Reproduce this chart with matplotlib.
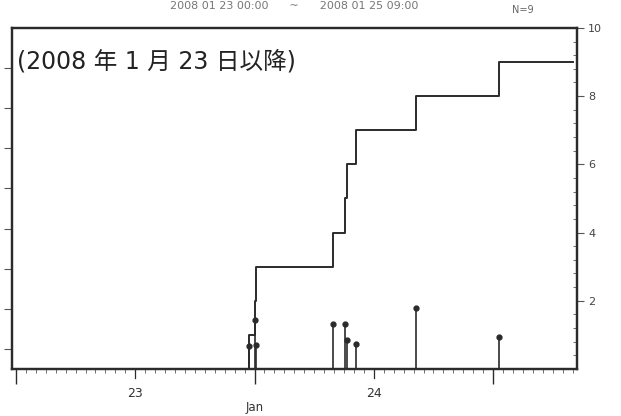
import matplotlib
matplotlib.use('Agg')
import matplotlib.pyplot as plt
import matplotlib.dates as mdates
import numpy as np
import pandas as pd

# event times and magnitudes
event_times = ['2008-01-23 23:26', '2008-01-24 00:03', '2008-01-24 00:09',
               '2008-01-24 07:53', '2008-01-24 09:06', '2008-01-24 09:18',
               '2008-01-24 10:12', '2008-01-24 16:14', '2008-01-25 00:36']
magnitudes = [0.08, 0.73, 0.10, 0.63, 0.63, 0.23, 0.13, 1.03, 0.30]
right_ticks = [2, 4, 6, 8, 10]
day_labels = ['23', '24']

title_text = '2008 01 23 00:00      ~      2008 01 25 09:00'
note_text = '(2008 年 1 月 23 日以降)'

t_start = pd.Timestamp('2008-01-22 23:36')
t_end = pd.Timestamp('2008-01-25 08:27')
line_end = pd.Timestamp('2008-01-25 08:00')

times = pd.to_datetime(event_times)
count = np.arange(1, len(times) + 1)

ink = '#2b2b2b'
grey = '#555555'

fig = plt.figure(figsize=(6.21, 4.16), dpi=100)
ax = fig.add_axes([0.0193, 0.113, 0.91, 0.82])

# magnitude stems on the left axis
ax.vlines(times, -0.5, magnitudes, color=ink, lw=1.2)
ax.plot(times, magnitudes, 'o', color=ink, ms=3.5)
ax.set_ylim(-0.5, 8)
ax.set_yticks(range(0, 8))
ax.set_yticklabels([])
ax.tick_params(axis='y', direction='out', length=6, width=0.8, color=grey)

ax.set_xlim(t_start, t_end)
ax.xaxis.set_major_locator(mdates.DayLocator())
ax.xaxis.set_major_formatter(plt.NullFormatter())
ax.xaxis.set_minor_locator(mdates.HourLocator())
ax.tick_params(axis='x', which='major', direction='out', length=11, width=1.0, color=ink)
ax.tick_params(axis='x', which='minor', direction='out', length=3, width=0.6, color=grey)

# day labels at noon, with a medium tick there
for lab in day_labels:
    noon = mdates.date2num(pd.Timestamp('2008-01-%s 12:00' % lab))
    ax.plot([noon, noon], [0, -0.025], color=ink, lw=0.9,
            transform=ax.get_xaxis_transform(), clip_on=False)
    ax.annotate(lab, xy=(noon, 0), xycoords=('data', 'axes fraction'),
                xytext=(0, -13), textcoords='offset points',
                ha='center', va='top', fontsize=9, color='#333333')
ax.annotate('Jan', xy=(mdates.date2num(pd.Timestamp('2008-01-24 00:00')), 0),
            xycoords=('data', 'axes fraction'), xytext=(0, -23),
            textcoords='offset points', ha='center', va='top', fontsize=8.5, color='#333333')
for sp in ax.spines.values():
    sp.set_linewidth(1.6)
    sp.set_color(ink)

# cumulative count on the right axis
ax2 = ax.twinx()
step_x = [t_start] + list(times) + [line_end]
step_y = [0] + list(count) + [count[-1]]
ax2.step(step_x, step_y, where='post', color=ink, lw=1.4)
ax2.set_ylim(0, 10)
ax2.set_yticks(right_ticks)
ax2.yaxis.set_minor_locator(plt.MultipleLocator(0.4))
ax2.tick_params(axis='y', which='major', direction='out', length=5, width=0.8,
                color=grey, labelsize=8, labelcolor='#444444', pad=3)
ax2.tick_params(axis='y', which='minor', direction='in', length=3, width=0.6, color=grey)
for sp in ax2.spines.values():
    sp.set_linewidth(1.6)
    sp.set_color(ink)

ax.text(0.008, 0.9, note_text, transform=ax.transAxes, ha='left', va='center',
        fontsize=17, color='#222222', family=['DejaVu Sans', 'Noto Sans CJK JP'])

fig.text(0.473, 0.998, title_text, ha='center', va='top', fontsize=8, color='#777777')
fig.text(0.842, 0.975, 'N=9', ha='center', va='center', fontsize=7, color='#666666')

fig.savefig('out.png', dpi=100)
